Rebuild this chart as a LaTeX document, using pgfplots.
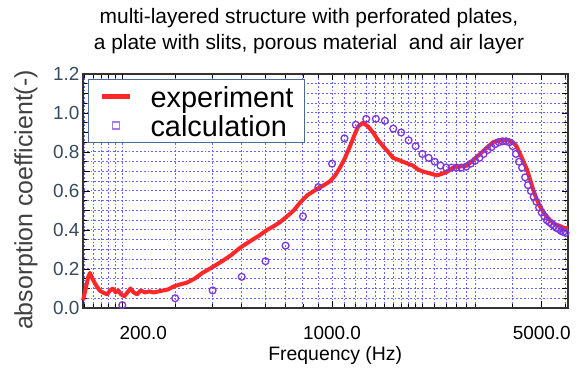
\documentclass[border=0pt]{standalone}
\usepackage{pgfplots}
\pgfplotsset{compat=1.18}
\usepackage{fontspec}
\setmainfont{Liberation Sans}
\definecolor{expred}{RGB}{255,40,40}
\definecolor{calcpur}{RGB}{125,55,215}
\definecolor{calcleg}{RGB}{170,120,235}
\definecolor{gridblue}{RGB}{100,100,255}
\definecolor{legborder}{RGB}{75,105,150}
\definecolor{yticktxt}{RGB}{55,75,95}
\pgfplotstableread{
f a
148 0.04
151 0.10
154 0.16
156 0.18
159 0.15
163 0.12
168 0.09
172 0.08
178 0.07
182 0.09
186 0.10
190 0.08
194 0.09
198 0.07
203 0.06
208 0.08
213 0.10
218 0.08
224 0.07
230 0.09
238 0.08
246 0.085
254 0.08
264 0.085
274 0.09
284 0.095
296 0.11
310 0.12
328 0.13
348 0.15
370 0.18
400 0.21
430 0.24
460 0.27
495 0.31
530 0.34
570 0.37
607 0.40
640 0.42
671 0.44
708 0.47
745 0.50
782 0.54
830 0.58
891 0.61
940 0.63
985 0.65
1025 0.68
1063 0.72
1105 0.77
1148 0.83
1190 0.89
1221 0.93
1269 0.95
1320 0.93
1370 0.90
1425 0.86
1479 0.83
1540 0.80
1597 0.77
1660 0.76
1725 0.75
1790 0.74
1862 0.73
1935 0.71
2011 0.70
2120 0.69
2239 0.68
2344 0.69
2430 0.70
2531 0.72
2650 0.725
2818 0.73
2960 0.76
3114 0.79
3270 0.82
3441 0.85
3580 0.86
3715 0.86
3860 0.86
4011 0.85
4120 0.83
4235 0.79
4350 0.75
4467 0.71
4570 0.66
4677 0.61
4800 0.56
4936 0.52
5130 0.48
5330 0.45
5540 0.43
5754 0.42
5950 0.41
6118 0.41
}\experiment
\pgfplotstableread{
f a
200 0.015
300 0.05
400 0.09
500 0.16
600 0.24
700 0.32
800 0.47
900 0.62
1000 0.74
1100 0.87
1200 0.94
1300 0.97
1400 0.97
1500 0.96
1600 0.92
1700 0.90
1800 0.86
1900 0.83
2000 0.79
2100 0.77
2200 0.75
2300 0.73
2400 0.72
2500 0.72
2600 0.72
2700 0.72
2800 0.725
2900 0.74
3000 0.755
3100 0.77
3200 0.79
3300 0.81
3400 0.825
3500 0.84
3600 0.85
3700 0.855
3800 0.855
3900 0.85
4000 0.83
4100 0.79
4200 0.75
4300 0.72
4400 0.67
4500 0.63
4600 0.60
4700 0.57
4800 0.545
4900 0.515
5000 0.49
5100 0.47
5200 0.45
5300 0.44
5400 0.43
5500 0.42
5600 0.41
5700 0.405
5800 0.395
5900 0.39
6000 0.385
}\calculation
\begin{document}
\begin{tikzpicture}
\begin{axis}[
  scale only axis, width=485bp, height=234bp,
  xmode=log, xmin=147.9, xmax=6118, ymin=0, ymax=1.2,
  clip=false,
  axis line style={line width=1.2bp, color=black!80},
  tick align=inside, tick pos=both,
  tick style={color=black, line width=0.8bp},
  major tick length=6.5bp, minor tick length=4bp,
  xtick={1000,5000}, xticklabels={1000.0,5000.0},
  extra x ticks={200}, extra x tick labels={200.0},
  extra x tick style={grid=none, xticklabel style={xshift=21bp}},
  minor xtick={150,160,170,180,190,200,300,400,500,600,700,800,900,1100,1200,1300,1400,1500,1600,1700,1800,1900,2000,2200,2400,2600,2800,3000,4000,6000},
  ytick={0,0.1,0.2,0.3,0.4,0.5,0.6,0.7,0.8,0.9,1.0,1.1,1.2},
  yticklabels={0.0,,0.2,,0.4,,0.6,,0.8,,1.0,,1.2},
  minor ytick={0.05,0.15,0.25,0.35,0.45,0.55,0.65,0.75,0.85,0.95,1.05,1.15},
  grid=both,
  grid style={color=gridblue, line width=1bp, dash pattern=on 1.8bp off 2bp},
  minor grid style={color=gridblue, line width=1bp, dash pattern=on 1.8bp off 2bp},
  /pgf/number format/assume math mode=true,
  xticklabel style={font=\fontsize{19}{19}\selectfont, anchor=center, yshift=-25bp},
  yticklabel style={font=\fontsize{19}{19}\selectfont, color=yticktxt},
  xlabel={Frequency (Hz)},
  xlabel style={font=\fontsize{19.5}{20}\selectfont, at={(axis description cs:0.52,-0.201)}, anchor=center},
  ylabel={absorption coefficient(-)},
  ylabel style={font=\fontsize{25}{25}\selectfont, color=black!75, at={(axis description cs:-0.1175,0.4615)}, anchor=center},
  legend style={at={(axis description cs:0.0103,0.979)}, anchor=north west,
    draw=legborder, line width=1bp, fill=white,
    inner xsep=11bp, inner ysep=3bp, row sep=1bp, column sep=18bp,
    font=\fontsize{29}{29}\selectfont,
    nodes={inner sep=0pt, text height=25bp, text depth=3bp}},
  legend cell align=left,
]
\addplot[color=expred, line width=4bp, line join=round,
  legend image code/.code={\draw[expred, line width=5bp] (0bp,0bp) -- (28bp,0bp);}]
  table[x=f, y=a] {\experiment};
\addlegendentry{experiment}
\addplot[only marks, mark=o, mark size=3.4bp, color=calcpur, mark options={line width=1.3bp},
  legend image code/.code={\draw[calcleg, line width=1bp] plot[only marks, mark=square, mark size=3.5bp] coordinates {(14bp,0bp)};}]
  table[x=f, y=a] {\calculation};
\addlegendentry{calculation}
\node[align=center, font=\fontsize{21}{26}\selectfont] at (axis description cs:0.466,1.184)
  {multi-layered structure with perforated plates,\\a plate with slits, porous material~ and air layer};
\end{axis}
\path (current axis.south west) ++(-83bp,-66bp) rectangle ++(579bp,374bp);
\end{tikzpicture}
\end{document}
